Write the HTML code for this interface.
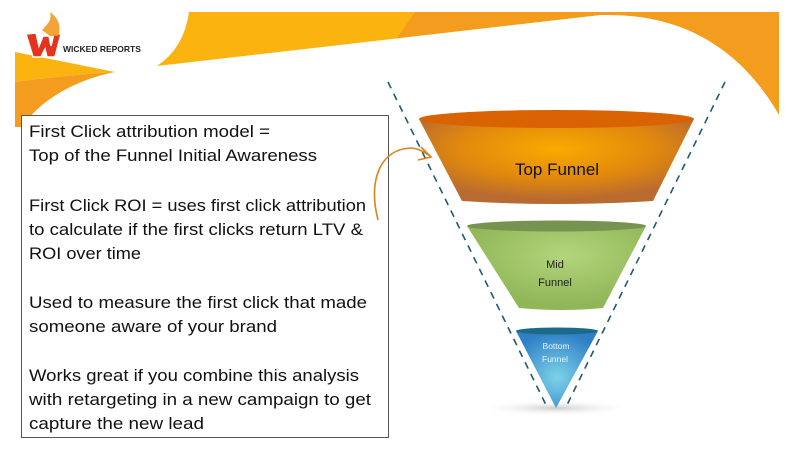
<!DOCTYPE html>
<html><head><meta charset="utf-8"><style>
html,body{margin:0;padding:0;background:#fff;}
svg{display:block;}
</style></head><body>
<svg width="800" height="450" viewBox="0 0 800 450" xmlns="http://www.w3.org/2000/svg" font-family="'Liberation Sans', sans-serif">
<defs>
<radialGradient id="gTop" cx="0.5" cy="0.35" r="0.6">
<stop offset="0" stop-color="#fbaa00"/><stop offset="0.6" stop-color="#e0880e"/><stop offset="1" stop-color="#b96a30"/>
</radialGradient>
<radialGradient id="gMid" cx="0.55" cy="0.35" r="0.6">
<stop offset="0" stop-color="#b3d47c"/><stop offset="1" stop-color="#8fb657"/>
</radialGradient>
<radialGradient id="gBot" cx="0.5" cy="0.6" r="0.6">
<stop offset="0" stop-color="#7dd2e8"/><stop offset="1" stop-color="#2f7fc6"/>
</radialGradient>
<radialGradient id="gShadow" cx="0.5" cy="0.5" r="0.5">
<stop offset="0" stop-color="#ccc"/><stop offset="1" stop-color="#fff" stop-opacity="0"/>
</radialGradient>
</defs>
<!-- top band yellow -->
<path d="M189 12 L779 12 L779 115 C745 55 690 15 610 15 L600 15 L157 66 Q184 48 189 12 Z" fill="#fbb40f"/>
<!-- top band orange part -->
<path d="M415 12 L779 12 L779 115 C745 55 690 15 610 15 L600 15 L397 38 Z" fill="#f49c1e"/>
<!-- left wedge -->
<path d="M15 52 L115 72 C80 74 45 78 15 82 Z" fill="#fbb40f"/>
<path d="M15 82 C45 78 80 74 115 72 C75 80 40 100 22 127 L15 127 Z" fill="#f49c1e"/>
<!-- logo -->
<path d="M26 34 L36 33 L39 46 L43 36 L49 36 L51 46 L54 33 L61 34 L55 57 L47 57 L45 49 L41 57 L33 57 Z" fill="#e4341d" stroke="#fff" stroke-width="1.5"/>
<path d="M42 30 C48 24 52 20 50 12 C58 18 62 26 58 36 L50 36 Z" fill="#f39a1e" opacity="0.9"/>
<text x="63" y="52" font-size="8.5" font-weight="bold" fill="#222">WICKED REPORTS</text>
<!-- shadow -->
<ellipse cx="556" cy="408" rx="80" ry="8" fill="url(#gShadow)"/>
<!-- dashed lines -->
<line x1="388" y1="82" x2="546" y2="405" stroke="#1f5a6e" stroke-width="1.6" stroke-dasharray="7,6"/>
<line x1="725" y1="82" x2="567" y2="405" stroke="#1f5a6e" stroke-width="1.6" stroke-dasharray="7,6"/>
<!-- top funnel -->
<path d="M419 119 L694 119 L653 201 Q557 207 462 201 Z" fill="url(#gTop)"/>
<ellipse cx="556.5" cy="119" rx="137.5" ry="9" fill="#d96302"/>
<text x="557" y="175" font-size="17" text-anchor="middle" fill="#111">Top Funnel</text>
<!-- mid funnel -->
<path d="M467 226 L646 226 L603 308 Q561 312 519 308 Z" fill="url(#gMid)"/>
<ellipse cx="556.5" cy="226" rx="89.5" ry="5.5" fill="#76934f"/>
<text x="555" y="268" font-size="11" text-anchor="middle" fill="#222">Mid</text>
<text x="555" y="286" font-size="11" text-anchor="middle" fill="#222">Funnel</text>
<!-- bottom funnel -->
<path d="M516 331 L598 331 L556 408 Z" fill="url(#gBot)"/>
<ellipse cx="557" cy="331" rx="41" ry="3.5" fill="#1c6a8a"/>
<text x="556" y="349" font-size="8.5" text-anchor="middle" fill="#e8f4fa">Bottom</text>
<text x="555" y="362" font-size="8.5" text-anchor="middle" fill="#e8f4fa">Funnel</text>
<!-- text box -->
<rect x="21.5" y="115.5" width="367" height="322" fill="#fff" stroke="#555" stroke-width="1"/>
<g font-size="16.5" fill="#111">
<text x="29" y="137" textLength="241" lengthAdjust="spacingAndGlyphs">First Click attribution model =</text>
<text x="29" y="161" textLength="288" lengthAdjust="spacingAndGlyphs">Top of the Funnel Initial Awareness</text>
<text x="29" y="211" textLength="337" lengthAdjust="spacingAndGlyphs">First Click ROI = uses first click attribution</text>
<text x="29" y="235" textLength="334" lengthAdjust="spacingAndGlyphs">to calculate if the first clicks return LTV &amp;</text>
<text x="29" y="259" textLength="112" lengthAdjust="spacingAndGlyphs">ROI over time</text>
<text x="29" y="308" textLength="338" lengthAdjust="spacingAndGlyphs">Used to measure the first click that made</text>
<text x="29" y="332" textLength="248" lengthAdjust="spacingAndGlyphs">someone aware of your brand</text>
<text x="29" y="381" textLength="330" lengthAdjust="spacingAndGlyphs">Works great if you combine this analysis</text>
<text x="29" y="405" textLength="342" lengthAdjust="spacingAndGlyphs">with retargeting in a new campaign to get</text>
<text x="29" y="429" textLength="175" lengthAdjust="spacingAndGlyphs">capture the new lead</text>
</g>
<!-- arrow -->
<path d="M378 220 C368 180 380 150 410 148 C418 148 424 152 430 156" fill="none" stroke="#d98418" stroke-width="1.6"/>
<path d="M421 147 L431 157 L418 160" fill="none" stroke="#d98418" stroke-width="1.6"/>
</svg>
</body></html>
